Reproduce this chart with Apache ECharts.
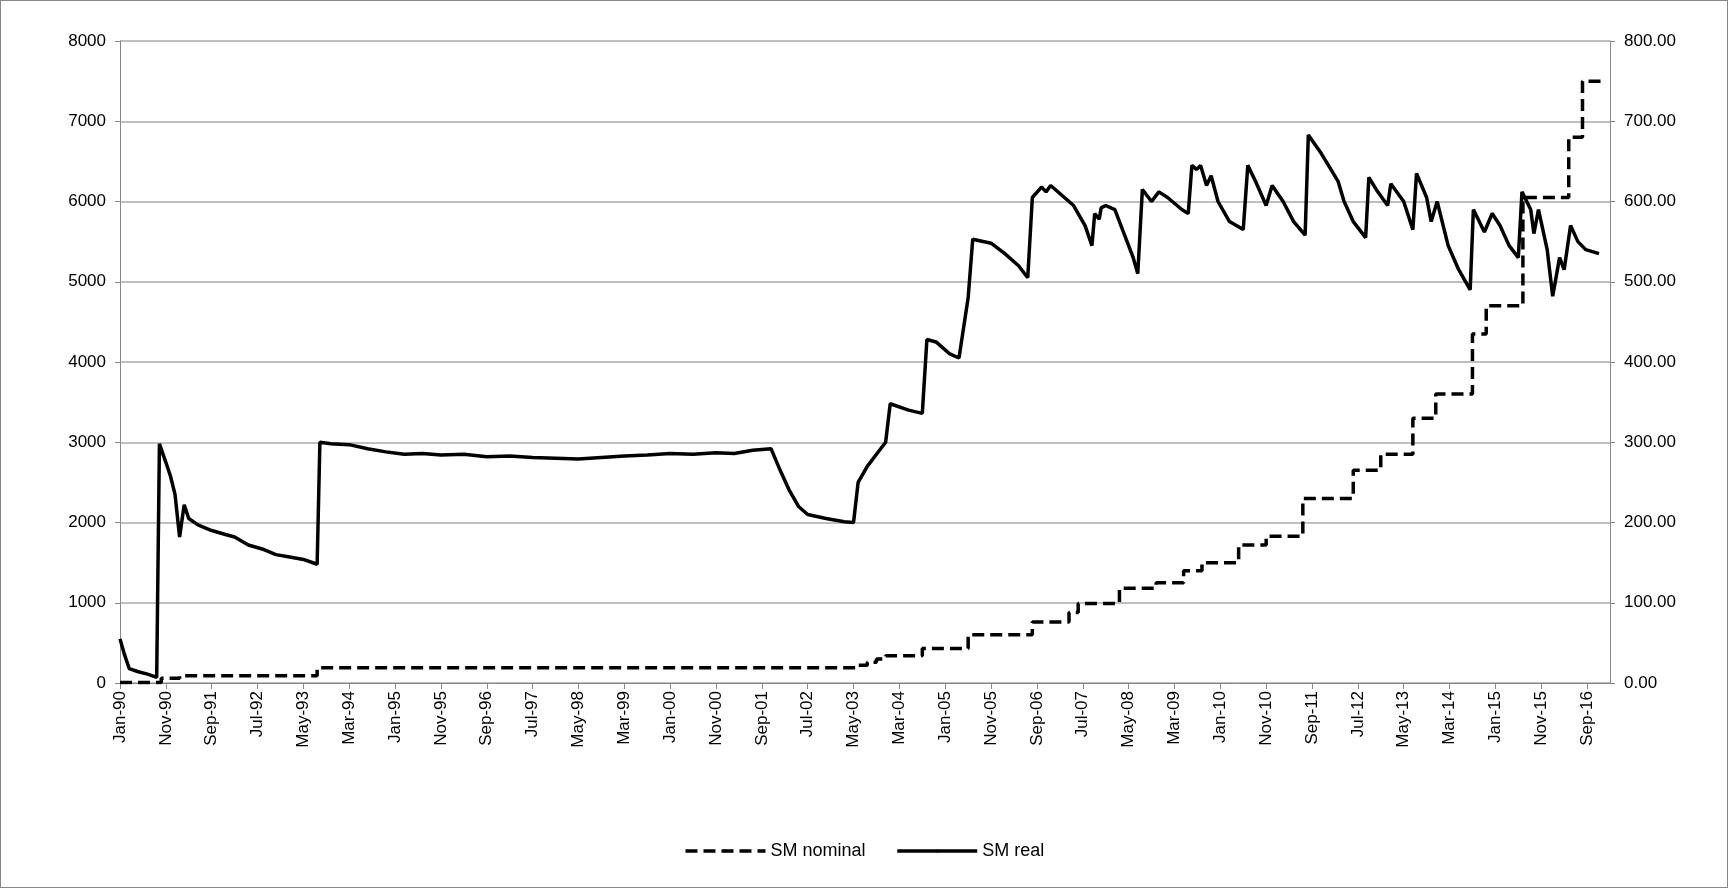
<!DOCTYPE html>
<html>
<head>
<meta charset="UTF-8">
<script src="https://cdn.jsdelivr.net/npm/echarts@6/dist/echarts.min.js"></script>
<style>body{margin:0;background:#fff}#main{width:1728px;height:888px;box-sizing:border-box;border:1px solid #888}</style>
</head>
<body>
<div id="main"></div>
<script>
// month index from Jan-90
const monthNames = ['Jan','Feb','Mar','Apr','May','Jun','Jul','Aug','Sep','Oct','Nov','Dec'];
// SM nominal (left axis), step changes [monthIndex, value]
const nominal = [[0,5],[9,60],[13,90],[43,190],[161,220],[163,260],[165,300],[167,340],[175,430],[185,600],
  [199,760],[207,880],[209,990],[218,1180],[226,1250],[232,1400],[236,1500],[244,1720],[250,1830],
  [258,2300],[269,2650],[275,2850],[282,3300],[287,3600],[295,4350],[298,4700],[306,6050],[316,6800],[319,7500],[324,7500]];
// SM real (right axis), [monthIndex, value]
const real = [[0,55],[1,35],[2,18],[4,14],[6,11],[8,7],[8.6,298],[10,275],[11,258],[12,235],[13,182],[14,222],[15,205],
  [17,197],[20,190],[23,185],[25,182],[28,172],[31,167],[34,160],[37,157],[40,154],[43,148],[43.6,300],
  [46,298],[50,297],[54,292],[58,288],[62,285],[66,286],[70,284],[75,285],[80,282],[85,283],[90,281],[95,280],[100,279],
  [105,281],[110,283],[115,284],[120,286],[125,285],[130,287],[134,286],[138,290],[142,292],[144,265],[146,240],[148,220],
  [150,210],[154,205],[158,201],[160,200],
  [161,250],[163,270],[165,285],[167,300],[168,348],[172,340],[175,336],[176,428],[178,425],[181,410],[183,405],
  [185,480],[186,553],[190,548],[193,535],[196,520],[198,505],[199,605],[201,618],[202,612],[203,620],[206,605],
  [208,595],[210.5,570],[212,545],[212.6,585],[213.6,578],[214,592],[215,595],[217,590],[219,560],[221,530],[222,510],
  [223,615],[225,600],[226.6,612],[228.5,605],[231.6,590],[233,585],[233.8,645],[234.8,640],[235.7,645],[237,620],
  [238,632],[239.5,600],[242,575],[245,565],[246,645],[247.7,625],[250,595],[251.3,620],[253.7,600],[256,575],
  [258.5,558],[259.2,683],[262,660],[265.7,625],[267,600],[269,575],[271.7,555],[272.4,630],[274,615],[276.5,595],
  [277.2,622],[280,600],[282,565],[282.8,635],[285,605],[286,575],[287.3,600],[289.7,545],[292,515],[294.5,490],
  [295.2,590],[297.6,562],[299.3,585],[301,570],[303,545],[305,530],[305.8,612],[307.7,590],[308.4,560],[309.4,590],
  [311.3,540],[312.5,482],[314,530],[315,515],[316.4,570],[318,550],[319.7,540],[322.6,535]];

function monthLabel(i) {
  const y = 1990 + Math.floor(i / 12);
  return monthNames[i % 12] + '-' + String(y % 100).padStart(2, '0');
}

const chart = echarts.init(document.getElementById('main'));
const font = 'Liberation Sans';
chart.setOption({
  animation: false,
  textStyle: { fontFamily: font },
  grid: { left: 119, right: 117, top: 40, bottom: 204 },
  legend: {
    bottom: 22, left: 'center', itemWidth: 80, itemHeight: 4, itemGap: 30,
    textStyle: { fontSize: 18, color: '#000' },
    lineStyle: { width: 3.5 },
    data: ['SM nominal', 'SM real']
  },
  xAxis: {
    type: 'value', min: 0, max: 325, interval: 10,
    axisLine: { lineStyle: { color: '#888' } },
    axisTick: { show: true, length: 6, lineStyle: { color: '#888' } },
    splitLine: { show: false },
    axisLabel: {
      rotate: 90, fontSize: 17, color: '#000', showMaxLabel: false,
      formatter: v => monthLabel(v)
    }
  },
  yAxis: [
    { type: 'value', min: 0, max: 8000, interval: 1000,
      axisLine: { show: true, lineStyle: { color: '#888' } }, axisTick: { show: true, lineStyle: { color: '#888' } },
      axisLabel: { fontSize: 17, color: '#000', margin: 14, formatter: v => String(v) },
      splitLine: { lineStyle: { color: '#aaa', width: 1.5 } } },
    { type: 'value', min: 0, max: 800, interval: 100,
      axisLine: { show: true, lineStyle: { color: '#888' } }, axisTick: { show: true, lineStyle: { color: '#888' } },
      axisLabel: { fontSize: 17, color: '#000', margin: 14, formatter: v => v.toFixed(2) },
      splitLine: { show: false } }
  ],
  series: [
    { name: 'SM nominal', type: 'line', yAxisIndex: 0, step: 'end', data: nominal, symbol: 'none',
      lineStyle: { color: '#000', width: 3.5, type: [12, 6] }, itemStyle: { color: '#000' } },
    { name: 'SM real', type: 'line', yAxisIndex: 1, data: real, symbol: 'none',
      lineStyle: { color: '#000', width: 3.5 }, itemStyle: { color: '#000' } }
  ]
});
</script>
</body>
</html>
